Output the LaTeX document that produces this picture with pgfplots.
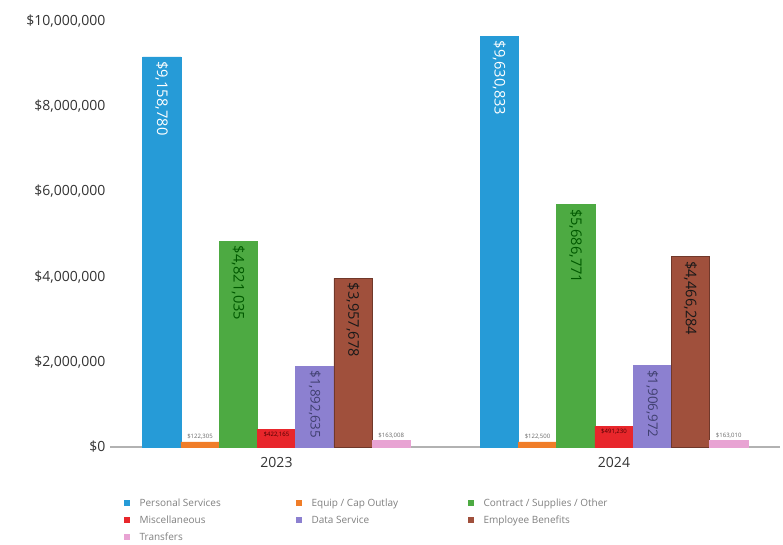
\documentclass[border=0pt]{standalone}
\usepackage{pgfplots}
\pgfplotsset{compat=1.18}
\usepackage{fontspec}
\setmainfont{Open Sans}
\definecolor{cPS}{HTML}{269BD7}
\definecolor{cEQ}{HTML}{F07D28}
\definecolor{cCO}{HTML}{4DAA42}
\definecolor{cMI}{HTML}{E8262B}
\definecolor{cDS}{HTML}{8C80D0}
\definecolor{cEB}{HTML}{A0503C}
\definecolor{cTR}{HTML}{E8A3D3}
\begin{document}
\begin{tikzpicture}
\useasboundingbox (-82.5pt,-72.75pt) rectangle (504.75pt,335.25pt);
\begin{axis}[
  at={(0,0)}, anchor=south west,
  scale only axis, width=502.5pt, height=319.5pt,
  xmin=-0.4933, xmax=1.4919, ymin=0, ymax=10000000,
  ybar=0pt, bar width=0.1133,
  legend image code/.code={\fill[#1,draw=none] (0pt,-2.3pt) rectangle (4.6pt,2.3pt); \path[draw=none,fill=none] (0pt,0pt) -- (11pt,0pt);},
  axis lines*=left,
  x axis line style={draw=gray!60, line width=0.8pt},
  y axis line style={draw=none},
  tick style={draw=none},
  xtick={0,1}, xticklabels={2023,2024},
  ytick={0,2000000,4000000,6000000,8000000,10000000},
  yticklabels={{\$0},{\$2,000,000},{\$4,000,000},{\$6,000,000},{\$8,000,000},{\$10,000,000}},
  scaled y ticks=false,
  tick label style={font=\fontsize{10.5}{12}\selectfont, text=black!80},
  legend columns=3,
  legend cell align=left,
  legend style={draw=none, at={(axis description cs:0,0)}, anchor=north west,
    xshift=7.5pt, yshift=-36pt, font=\fontsize{7.5}{9}\selectfont, text=gray,
    column sep=0pt, row sep=4.5pt, nodes={inner sep=0.5pt}},
]
\addplot[fill=cPS, draw=cPS, nodes near coords, point meta=explicit symbolic,
  every node near coord/.append style={rotate=-90, anchor=west, font=\fontsize{11}{13}\selectfont, text=white, inner sep=3pt}]
  coordinates {(0,9158780) [\$9,158,780] (1,9630833) [\$9,630,833]};
\addlegendentry{\makebox[117pt][l]{Personal Services}}
\addplot[fill=cEQ, draw=cEQ, nodes near coords, point meta=explicit symbolic,
  every node near coord/.append style={anchor=south, font=\fontsize{4.5}{5}\selectfont, text=black!60, inner sep=1.5pt}]
  coordinates {(0,122305) [\$122,305] (1,122500) [\$122,500]};
\addlegendentry{\makebox[117pt][l]{Equip / Cap Outlay}}
\addplot[fill=cCO, draw=cCO, nodes near coords, point meta=explicit symbolic,
  every node near coord/.append style={rotate=-90, anchor=west, font=\fontsize{11}{13}\selectfont, text=green!35!black, inner sep=3pt}]
  coordinates {(0,4821035) [\$4,821,035] (1,5686771) [\$5,686,771]};
\addlegendentry{Contract / Supplies / Other}
\addplot[fill=cMI, draw=cMI, nodes near coords, point meta=explicit symbolic,
  every node near coord/.append style={anchor=north, font=\fontsize{4.5}{5}\selectfont, text=red!30!black, inner sep=2pt}]
  coordinates {(0,422165) [\$422,165] (1,491230) [\$491,230]};
\addlegendentry{\makebox[117pt][l]{Miscellaneous}}
\addplot[fill=cDS, draw=cDS, nodes near coords, point meta=explicit symbolic,
  every node near coord/.append style={rotate=-90, anchor=west, font=\fontsize{10}{12}\selectfont, text=blue!25!black!75, inner sep=3pt}]
  coordinates {(0,1892635) [\$1,892,635] (1,1906972) [\$1,906,972]};
\addlegendentry{\makebox[117pt][l]{Data Service}}
\addplot[fill=cEB, draw=cEB!70!black, nodes near coords, point meta=explicit symbolic,
  every node near coord/.append style={rotate=-90, anchor=west, font=\fontsize{11}{13}\selectfont, text=black!90, inner sep=3pt}]
  coordinates {(0,3957678) [\$3,957,678] (1,4466284) [\$4,466,284]};
\addlegendentry{Employee Benefits}
\addplot[fill=cTR, draw=cTR, nodes near coords, point meta=explicit symbolic,
  every node near coord/.append style={anchor=south, font=\fontsize{4.5}{5}\selectfont, text=black!60, inner sep=1.5pt}]
  coordinates {(0,163008) [\$163,008] (1,163010) [\$163,010]};
\addlegendentry{\makebox[117pt][l]{Transfers}}
\end{axis}
\end{tikzpicture}
\end{document}
